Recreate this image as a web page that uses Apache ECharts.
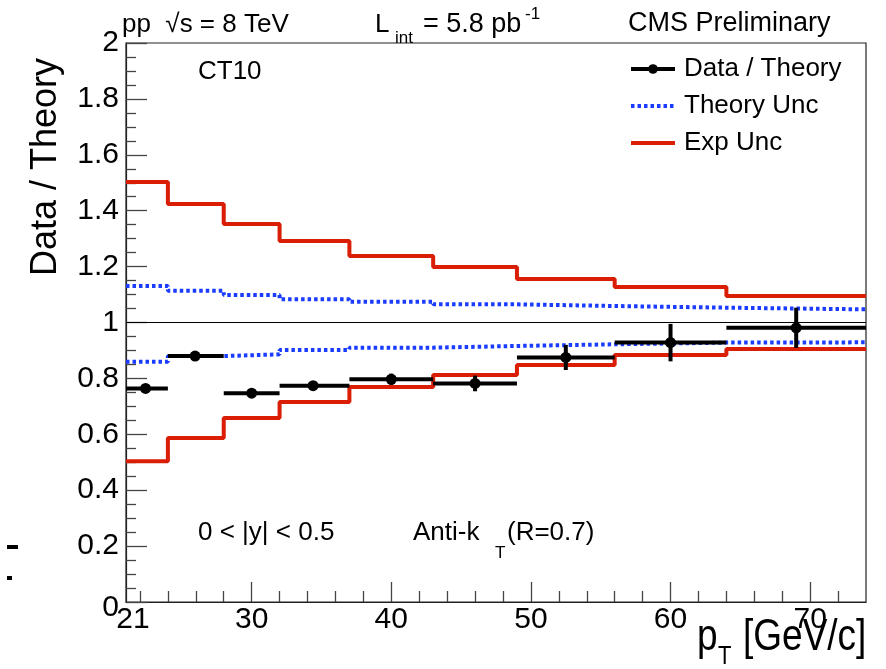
<!DOCTYPE html>
<html><head><meta charset="utf-8">
<script src="https://cdn.jsdelivr.net/npm/echarts@6/dist/echarts.min.js"></script>
<style>html,body{margin:0;padding:0;background:#fff}#c{width:886px;height:669px}</style>
</head><body><div id="c"></div>
<script>
// ---- data ----
const binEdges = [21, 24, 28, 32, 37, 43, 49, 56, 64, 74];
const pointX   = [22.4, 25.95, 30.0, 34.4, 40.0, 46.0, 52.5, 60.0, 69.0];
const ratio    = [0.764, 0.880, 0.747, 0.774, 0.797, 0.782, 0.875, 0.928, 0.981];
const ratioErr = [0.010, 0.010, 0.010, 0.012, 0.020, 0.028, 0.045, 0.067, 0.072];
const expUp    = [1.503, 1.424, 1.352, 1.292, 1.238, 1.199, 1.156, 1.127, 1.095];
const expDown  = [0.504, 0.587, 0.658, 0.716, 0.769, 0.812, 0.848, 0.884, 0.905];
const thUp     = [1.131, 1.114, 1.098, 1.083, 1.074, 1.065, 1.059, 1.053, 1.047];
const thDown   = [0.860, 0.880, 0.886, 0.902, 0.910, 0.916, 0.922, 0.928, 0.929];
const xLabelTicks = [21, 30, 40, 50, 60, 70];
const xMajorTicks = [30, 40, 50, 60, 70];
const xMinorTicks = [22, 24, 26, 28, 32, 34, 36, 38, 42, 44, 46, 48, 52, 54, 56, 58, 62, 64, 66, 68, 72];
const legendNames = ['Data / Theory', 'Theory Unc', 'Exp Unc'];

const FONT = '"Liberation Sans", Arial, Helvetica, sans-serif';
const RED = '#d91e05', BLUE = '#1a3cff';

function stepData(vals) {
  return binEdges.map((e, i) => [e, vals[Math.min(i, vals.length - 1)]]);
}
const pointData = pointX.map((x, i) => [x, ratio[i], binEdges[i], binEdges[i + 1], ratioErr[i]]);

const grid = { left: 126, right: 20, top: 43, bottom: 67, show: true, borderColor: '#222', borderWidth: 1.2, backgroundColor: 'transparent' };
const tickLine = { color: '#444', width: 1.3 };

const chart = echarts.init(document.getElementById('c'), null, { renderer: 'canvas' });
const option = {
  animation: false,
  backgroundColor: '#fff',
  grid: [grid, Object.assign({}, grid, { show: false })],
  xAxis: [{
    type: 'value', gridIndex: 0, min: 21, max: 74,
    axisLine: { lineStyle: { color: '#222', width: 1.2 } },
    axisTick: { inside: true, length: 20, customValues: xMajorTicks, lineStyle: tickLine },
    axisLabel: { fontSize: 30, fontFamily: FONT, color: '#000', margin: 3,
      customValues: xLabelTicks,
      formatter: v => (v === 21 ? '{f|21}' : String(v)),
      rich: { f: { fontSize: 30, fontFamily: FONT, color: '#000', padding: [0, 0, 0, 14] } } },
    splitLine: { show: false }
  }, {
    type: 'value', gridIndex: 1, min: 21, max: 74,
    axisLine: { show: false },
    axisTick: { inside: true, length: 11, customValues: xMinorTicks, lineStyle: tickLine },
    axisLabel: { show: false },
    splitLine: { show: false }
  }],
  yAxis: [{
    type: 'value', gridIndex: 0, min: 0, max: 2, interval: 0.2,
    axisLine: { show: true, lineStyle: { color: '#222', width: 1.2 } },
    axisTick: { show: true, inside: true, length: 21, lineStyle: tickLine },
    minorTick: { show: true, splitNumber: 4, length: 10, lineStyle: tickLine },
    axisLabel: { fontSize: 30, fontFamily: FONT, color: '#000', margin: 7,
      formatter: v => (v === 0 ? '{z|0}' : String(v)),
      rich: { z: { fontSize: 30, fontFamily: FONT, color: '#000', padding: [11, 0, 0, 0] } } },
    splitLine: { show: false }
  }, {
    type: 'value', gridIndex: 1, min: 0, max: 2, show: false
  }],
  legend: {
    data: [
      { name: legendNames[0] },
      { name: legendNames[1], itemStyle: { opacity: 0 } },
      { name: legendNames[2], itemStyle: { opacity: 0 } }
    ],
    orient: 'vertical', left: 624, top: 51,
    itemWidth: 44, itemHeight: 12, itemGap: 11,
    lineStyle: { width: 4 },
    textStyle: { fontSize: 26, fontFamily: FONT, color: '#000', padding: [0, 0, 0, 4] },
    selectedMode: false
  },
  series: [
    { name: 'Data / Theory', type: 'line', data: [], symbol: 'circle', symbolSize: 11,
      lineStyle: { color: '#000', width: 4 }, itemStyle: { color: '#000' } },
    { name: 'unity', type: 'line', data: [[21, 1], [74, 1]], symbol: 'none',
      lineStyle: { color: '#000', width: 1 }, z: 1, silent: true },
    { name: 'Theory Unc', type: 'line', step: 'end', data: stepData(thUp), symbol: 'none',
      lineStyle: { color: BLUE, width: 4, type: [3.5, 3] }, itemStyle: { color: BLUE }, z: 2 },
    { name: 'Theory Unc', type: 'line', step: 'end', data: stepData(thDown), symbol: 'none',
      lineStyle: { color: BLUE, width: 4, type: [3.5, 3] }, itemStyle: { color: BLUE }, z: 2 },
    { name: 'Exp Unc', type: 'line', step: 'end', data: stepData(expUp), symbol: 'none',
      lineStyle: { color: RED, width: 4 }, itemStyle: { color: RED }, z: 3 },
    { name: 'Exp Unc', type: 'line', step: 'end', data: stepData(expDown), symbol: 'none',
      lineStyle: { color: RED, width: 4 }, itemStyle: { color: RED }, z: 3 },
    { name: 'Data / Theory', type: 'custom', data: pointData, z: 5,
      encode: { x: 0, y: 1 },
      renderItem: function (params, api) {
        const x = api.value(0), y = api.value(1), xl = api.value(2), xh = api.value(3), e = api.value(4);
        const c = api.coord([x, y]);
        const l = api.coord([xl, y]);
        const r = api.coord([xh, y]);
        const t = api.coord([x, y + e]);
        const b = api.coord([x, y - e]);
        const st = { stroke: '#000', lineWidth: 4 };
        return { type: 'group', children: [
          { type: 'line', shape: { x1: l[0], y1: l[1], x2: r[0], y2: r[1] }, style: st },
          { type: 'line', shape: { x1: t[0], y1: t[1], x2: b[0], y2: b[1] }, style: st },
          { type: 'circle', shape: { cx: c[0], cy: c[1], r: 5.5 }, style: { fill: '#000' } }
        ] };
      }
    }
  ],
  graphic: [
    { type: 'text', x: 46, y: 58, rotation: Math.PI / 2,
      style: { text: 'Data / Theory', fontSize: 36, fontFamily: FONT, fill: '#000', align: 'right', verticalAlign: 'middle' } },
    { type: 'text', x: 122, y: 25, style: { text: 'pp  \u221As = 8 TeV', fontSize: 26, fontFamily: FONT, fill: '#000', align: 'left', verticalAlign: 'middle' } },
    { type: 'text', x: 375, y: 25, style: { text: 'L', fontSize: 26, fontFamily: FONT, fill: '#000', align: 'left', verticalAlign: 'middle' } },
    { type: 'text', x: 395, y: 38, style: { text: 'int', fontSize: 17, fontFamily: FONT, fill: '#000', align: 'left', verticalAlign: 'middle' } },
    { type: 'text', x: 423, y: 25, style: { text: '= 5.8 pb', fontSize: 27, fontFamily: FONT, fill: '#000', align: 'left', verticalAlign: 'middle' } },
    { type: 'text', x: 525, y: 14, style: { text: '-1', fontSize: 17, fontFamily: FONT, fill: '#000', align: 'left', verticalAlign: 'middle' } },
    { type: 'text', x: 628, y: 24, style: { text: 'CMS Preliminary', fontSize: 27, fontFamily: FONT, fill: '#000', align: 'left', verticalAlign: 'middle' } },
    { type: 'text', x: 198, y: 72, style: { text: 'CT10', fontSize: 26, fontFamily: FONT, fill: '#000', align: 'left', verticalAlign: 'middle' } },
    { type: 'text', x: 198, y: 533, style: { text: '0 < |y| < 0.5', fontSize: 26, fontFamily: FONT, fill: '#000', align: 'left', verticalAlign: 'middle' } },
    { type: 'text', x: 413, y: 533, style: { text: 'Anti-k', fontSize: 26, fontFamily: FONT, fill: '#000', align: 'left', verticalAlign: 'middle' } },
    { type: 'text', x: 495, y: 553, style: { text: 'T', fontSize: 17, fontFamily: FONT, fill: '#000', align: 'left', verticalAlign: 'middle' } },
    { type: 'text', x: 507, y: 533, style: { text: '(R=0.7)', fontSize: 26, fontFamily: FONT, fill: '#000', align: 'left', verticalAlign: 'middle' } },
    { type: 'text', x: 697, y: 638, scaleY: 1.2, style: { text: 'p', fontSize: 37, fontFamily: FONT, fill: '#000', align: 'left', verticalAlign: 'middle' } },
    { type: 'text', x: 718, y: 657, scaleY: 1.2, style: { text: 'T', fontSize: 22, fontFamily: FONT, fill: '#000', align: 'left', verticalAlign: 'middle' } },
    { type: 'text', x: 743, y: 638, scaleY: 1.2, style: { text: '[GeV/c]', fontSize: 37, fontFamily: FONT, fill: '#000', align: 'left', verticalAlign: 'middle' } },
    { type: 'rect', shape: { x: 7, y: 545, width: 11, height: 4 }, style: { fill: '#000' } },
    { type: 'rect', shape: { x: 7, y: 576, width: 5, height: 4 }, style: { fill: '#000' } }
  ]
};
chart.setOption(option);
</script>
</body></html>
